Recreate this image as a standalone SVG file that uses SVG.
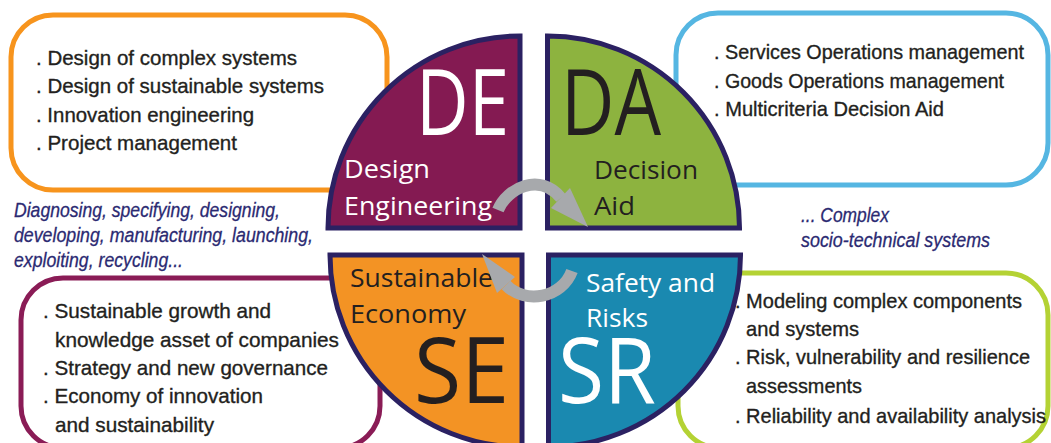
<svg xmlns="http://www.w3.org/2000/svg" width="1051" height="443" viewBox="0 0 1051 443">
  <style>
    .box { fill: #ffffff; stroke-width: 5; }
    .item { font-family: "Liberation Sans Narrow", "Liberation Sans", Arial, sans-serif; font-size: 21px; fill: #231f20; stroke: #231f20; stroke-width: 0.35px; }
    .note { font-family: "Liberation Sans Narrow", "Liberation Sans", Arial, sans-serif; font-size: 20px; font-style: italic; fill: #2b2a72; stroke: #2b2a72; stroke-width: 0.3px; }
    .quad { stroke: #2b2162; stroke-width: 5; stroke-linejoin: miter; }
    .big { font-family: "Open Sans", "Noto Sans", sans-serif; font-size: 91px; }
    .lbl { font-family: "Open Sans", "Noto Sans", sans-serif; font-size: 26px; }
    .light { fill: #ffffff; }
    .dark { fill: #231f20; }
    .flow { fill: none; stroke: #a7a9ac; stroke-width: 12; }
    .head { fill: #a7a9ac; }
  </style>

  <!-- Topic boxes -->
  <g id="box-de">
    <rect class="box" x="11" y="15" width="376" height="175" rx="42" stroke="#f7941d"/>
    <text class="item" x="36" y="65" textLength="261" lengthAdjust="spacingAndGlyphs">. Design of complex systems</text>
    <text class="item" x="36" y="93" textLength="288" lengthAdjust="spacingAndGlyphs">. Design of sustainable systems</text>
    <text class="item" x="36" y="122" textLength="218" lengthAdjust="spacingAndGlyphs">. Innovation engineering</text>
    <text class="item" x="36" y="150" textLength="201" lengthAdjust="spacingAndGlyphs">. Project management</text>
  </g>

  <g id="box-da">
    <rect class="box" x="676" y="13" width="372" height="172" rx="42" stroke="#55b6e2"/>
    <text class="item" x="714" y="59" textLength="310" lengthAdjust="spacingAndGlyphs">. Services Operations management</text>
    <text class="item" x="714" y="88" textLength="290" lengthAdjust="spacingAndGlyphs">. Goods Operations management</text>
    <text class="item" x="714" y="116" textLength="230" lengthAdjust="spacingAndGlyphs">. Multicriteria Decision Aid</text>
  </g>

  <g id="box-se">
    <rect class="box" x="21" y="278" width="359" height="170" rx="42" stroke="#8a1c56"/>
    <text class="item" x="43" y="318" textLength="228" lengthAdjust="spacingAndGlyphs">. Sustainable growth and</text>
    <text class="item" x="55" y="347" textLength="284" lengthAdjust="spacingAndGlyphs">knowledge asset of companies</text>
    <text class="item" x="43" y="375" textLength="285" lengthAdjust="spacingAndGlyphs">. Strategy and new governance</text>
    <text class="item" x="43" y="403" textLength="220" lengthAdjust="spacingAndGlyphs">. Economy of innovation</text>
    <text class="item" x="55" y="432" textLength="159" lengthAdjust="spacingAndGlyphs">and sustainability</text>
  </g>

  <g id="box-sr">
    <rect class="box" x="678" y="273" width="370" height="175" rx="42" stroke="#b4d234"/>
    <text class="item" x="735" y="308" textLength="287" lengthAdjust="spacingAndGlyphs">. Modeling complex components</text>
    <text class="item" x="746" y="336" textLength="113" lengthAdjust="spacingAndGlyphs">and systems</text>
    <text class="item" x="735" y="364" textLength="295" lengthAdjust="spacingAndGlyphs">. Risk, vulnerability and resilience</text>
    <text class="item" x="746" y="393" textLength="116" lengthAdjust="spacingAndGlyphs">assessments</text>
    <text class="item" x="735" y="423" textLength="311" lengthAdjust="spacingAndGlyphs">. Reliability and availability analysis</text>
  </g>

  <!-- Side notes -->
  <g id="note-left">
    <text class="note" x="14" y="217" textLength="266" lengthAdjust="spacingAndGlyphs">Diagnosing, specifying, designing,</text>
    <text class="note" x="14" y="242" textLength="299" lengthAdjust="spacingAndGlyphs">developing, manufacturing, launching,</text>
    <text class="note" x="14" y="267" textLength="169" lengthAdjust="spacingAndGlyphs">exploiting, recycling...</text>
  </g>
  <g id="note-right">
    <text class="note" x="801" y="222" font-size="19" textLength="88" lengthAdjust="spacingAndGlyphs">... Complex</text>
    <text class="note" x="801" y="247" font-size="19" textLength="189" lengthAdjust="spacingAndGlyphs">socio-technical systems</text>
  </g>

  <!-- Central quarter-disc quadrants -->
  <g id="quad-de">
    <path class="quad" fill="#841a52" d="M520,228 L328,228 A192,192 0 0 1 520,36 Z"/>
    <text class="big light" x="416" y="135" textLength="93" lengthAdjust="spacingAndGlyphs">DE</text>
    <text class="lbl light" x="344" y="178" textLength="86" lengthAdjust="spacingAndGlyphs">Design</text>
    <text class="lbl light" x="344" y="215" textLength="148" lengthAdjust="spacingAndGlyphs">Engineering</text>
  </g>

  <g id="quad-da">
    <path class="quad" fill="#8db33f" d="M547.5,228 L547.5,36 A192,192 0 0 1 739.5,228 Z"/>
    <text class="big dark" x="561" y="135" textLength="100" lengthAdjust="spacingAndGlyphs">DA</text>
    <text class="lbl dark" x="594" y="179" textLength="104" lengthAdjust="spacingAndGlyphs">Decision</text>
    <text class="lbl dark" x="594" y="215" textLength="41" lengthAdjust="spacingAndGlyphs">Aid</text>
  </g>

  <g id="quad-se">
    <path class="quad" fill="#f39324" d="M522,255 L522,447 A192,192 0 0 1 330,255 Z"/>
    <text class="big dark" x="414" y="403" textLength="95" lengthAdjust="spacingAndGlyphs">SE</text>
    <text class="lbl dark" x="350" y="287" textLength="143" lengthAdjust="spacingAndGlyphs">Sustainable</text>
    <text class="lbl dark" x="350" y="323" textLength="116" lengthAdjust="spacingAndGlyphs">Economy</text>
  </g>

  <g id="quad-sr">
    <path class="quad" fill="#1a89b0" d="M548.5,255 L740.5,255 A192,192 0 0 1 548.5,447 Z"/>
    <text class="big light" x="558" y="403" textLength="98" lengthAdjust="spacingAndGlyphs">SR</text>
    <text class="lbl light" x="586" y="292" textLength="129" lengthAdjust="spacingAndGlyphs">Safety and</text>
    <text class="lbl light" x="586" y="327" textLength="62" lengthAdjust="spacingAndGlyphs">Risks</text>
  </g>

  <!-- Cycle arrows between quadrants -->
  <g id="connectors">
    <path class="flow" d="M498,210 C507,188 540,172 561,198"/>
    <polygon class="head" points="551,208 570,188 588,227"/>
    <path class="flow" d="M572,271 C562,298 525,305 506,285"/>
    <polygon class="head" points="515,277 497,293 482,254"/>
  </g>
</svg>
